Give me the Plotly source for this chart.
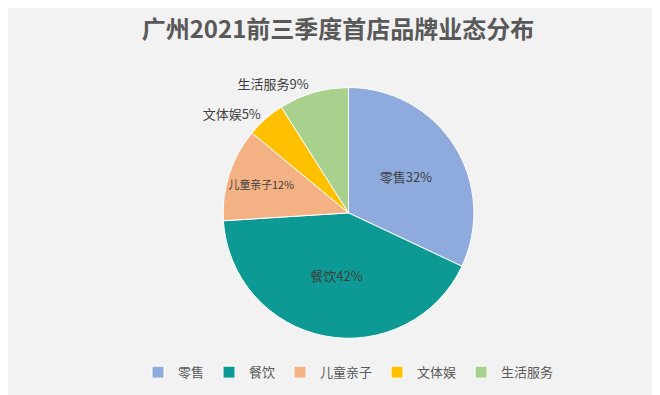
import plotly.graph_objects as go

categories = ["零售", "餐饮", "儿童亲子", "文体娱", "生活服务"]
values = [32, 42, 12, 5, 9]
colors = ["#8FAADC", "#0E9A94", "#F4B183", "#FFC000", "#A9D18E"]
positions = ["inside", "inside", "inside", "outside", "outside"]

fig = go.Figure(go.Pie(
    labels=categories,
    values=values,
    sort=False,
    direction="clockwise",
    rotation=0,
    marker=dict(colors=colors, line=dict(color="#FFFFFF", width=1)),
    texttemplate="%{label}%{percent:.0%}",
    textposition=positions,
    insidetextorientation="horizontal",
    textfont=dict(family="Noto Sans CJK SC", size=13, color="#404040"),
    outsidetextfont=dict(family="Noto Sans CJK SC", size=13, color="#404040"),
    domain=dict(x=[0.1, 0.9], y=[0.05, 0.9]),
    hoverinfo="label+percent",
))

fig.update_layout(
    width=660, height=395,
    paper_bgcolor="#F2F2F2",
    plot_bgcolor="#F2F2F2",
    margin=dict(l=10, r=10, t=50, b=50),
    title=dict(
        text="<b>广州2021前三季度首店品牌业态分布</b>",
        x=0.5, xanchor="center", y=0.945, yanchor="middle",
        font=dict(family="Noto Sans CJK SC", size=24, color="#595959"),
    ),
    legend=dict(
        orientation="h", x=0.5, xanchor="center", y=-0.065, yanchor="middle",
        font=dict(family="Noto Sans CJK SC", size=13, color="#595959"),
    ),
)

fig.write_html("out.html")
